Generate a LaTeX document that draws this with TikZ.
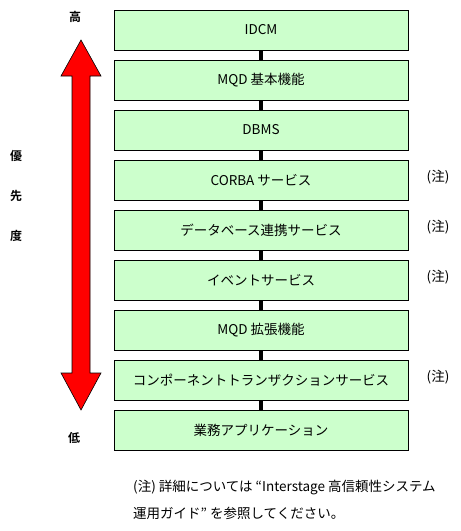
\documentclass[tikz,border=0pt]{standalone}
\usepackage{fontspec}
\setmainfont{Noto Sans CJK JP}
\newfontfamily\jpbold{Noto Sans CJK JP Bold}
\definecolor{boxgreen}{HTML}{CCFFCC}
\definecolor{arrowred}{HTML}{FF0000}
\begin{document}
\begin{tikzpicture}[x=1pt,y=-1pt,
  layerbox/.style={draw=black,line width=1pt,fill=boxgreen,minimum width=294pt,minimum height=40pt,inner sep=0pt,font=\fontsize{13.5}{15}\selectfont},
  link/.style={draw=black,line width=4pt},
  sidelabel/.style={font=\fontsize{12}{14}\selectfont,inner sep=0pt},
  notelabel/.style={font=\fontsize{13.5}{15}\selectfont,inner sep=0pt}]
\useasboundingbox (0,0) rectangle (461,531);
\foreach \i/\t in {1/IDCM,2/MQD 基本機能,3/DBMS,4/CORBA サービス,5/データベース連携サービス,6/イベントサービス,7/MQD 拡張機能,8/コンポーネントトランザクションサービス,9/業務アプリケーション}{
  \node[layerbox] (b\i) at (261,{30+50*(\i-1)}) {\t};
}
\foreach \i/\j in {1/2,2/3,3/4,4/5,5/6,6/7,7/8,8/9}{
  \draw[link] (b\i.south) -- (b\j.north);
}
\foreach \i in {4,5,6,8}{
  \node[notelabel] (n\i) at (438,{30+50*(\i-1)-3}) {(注)};
}
\draw[fill=arrowred,draw=black,line width=0.6pt]
  (81,40) -- (101,76) -- (90,76) -- (90,373) -- (101,373) -- (81,410)
  -- (61,373) -- (72,373) -- (72,76) -- (61,76) -- cycle;
\node[sidelabel] (hi) at (75,17) {\jpbold 高};
\node[sidelabel] (lo) at (74,438) {\jpbold 低};
\node[sidelabel] (p1) at (16,156) {\jpbold 優};
\node[sidelabel] (p2) at (16,196) {\jpbold 先};
\node[sidelabel] (p3) at (16,236) {\jpbold 度};
\node[notelabel,anchor=west] (note1) at (133,487) {(注) 詳細については “Interstage 高信頼性システム};
\node[notelabel,anchor=west] (note2) at (133,513) {運用ガイド” を参照してください。};
\end{tikzpicture}
\end{document}
